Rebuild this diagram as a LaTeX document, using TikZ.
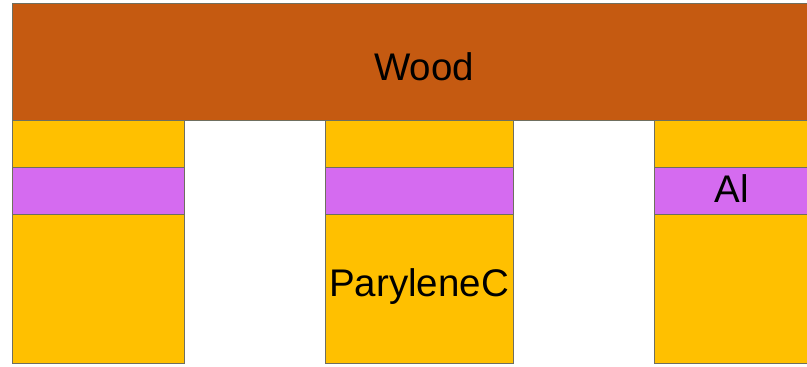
\documentclass[tikz,border=0pt]{standalone}
\usepackage{fontspec}
\setmainfont{Liberation Sans}
\definecolor{wood}{HTML}{C55A11}
\definecolor{pary}{HTML}{FFC000}
\definecolor{alu}{HTML}{D56BF0}
\definecolor{edge}{HTML}{6F6F5F}
\begin{document}
\begin{tikzpicture}[x=1pt,y=-1pt,
  layer/.style={draw=edge,line width=0.9pt},
  lbl/.style={font=\fontsize{38.5}{42}\selectfont,text=black,inner sep=0pt}]
\useasboundingbox (0,0) rectangle (807,367);
% pillars
\foreach \xa/\xb in {12/184, 325/513, 654/812}{
  \filldraw[layer,fill=pary] (\xa,120) rectangle (\xb,167);
  \filldraw[layer,fill=alu] (\xa,167) rectangle (\xb,214);
  \filldraw[layer,fill=pary] (\xa,214) rectangle (\xb,363);
}
% wood
\filldraw[layer,fill=wood] (12,3) rectangle (812,120);
\node[lbl] (wood) at (424,67) {Wood};
\node[lbl] (al) at (732,189) {Al};
\node[lbl] (pc) at (419,287) {ParyleneC};
\end{tikzpicture}
\end{document}
